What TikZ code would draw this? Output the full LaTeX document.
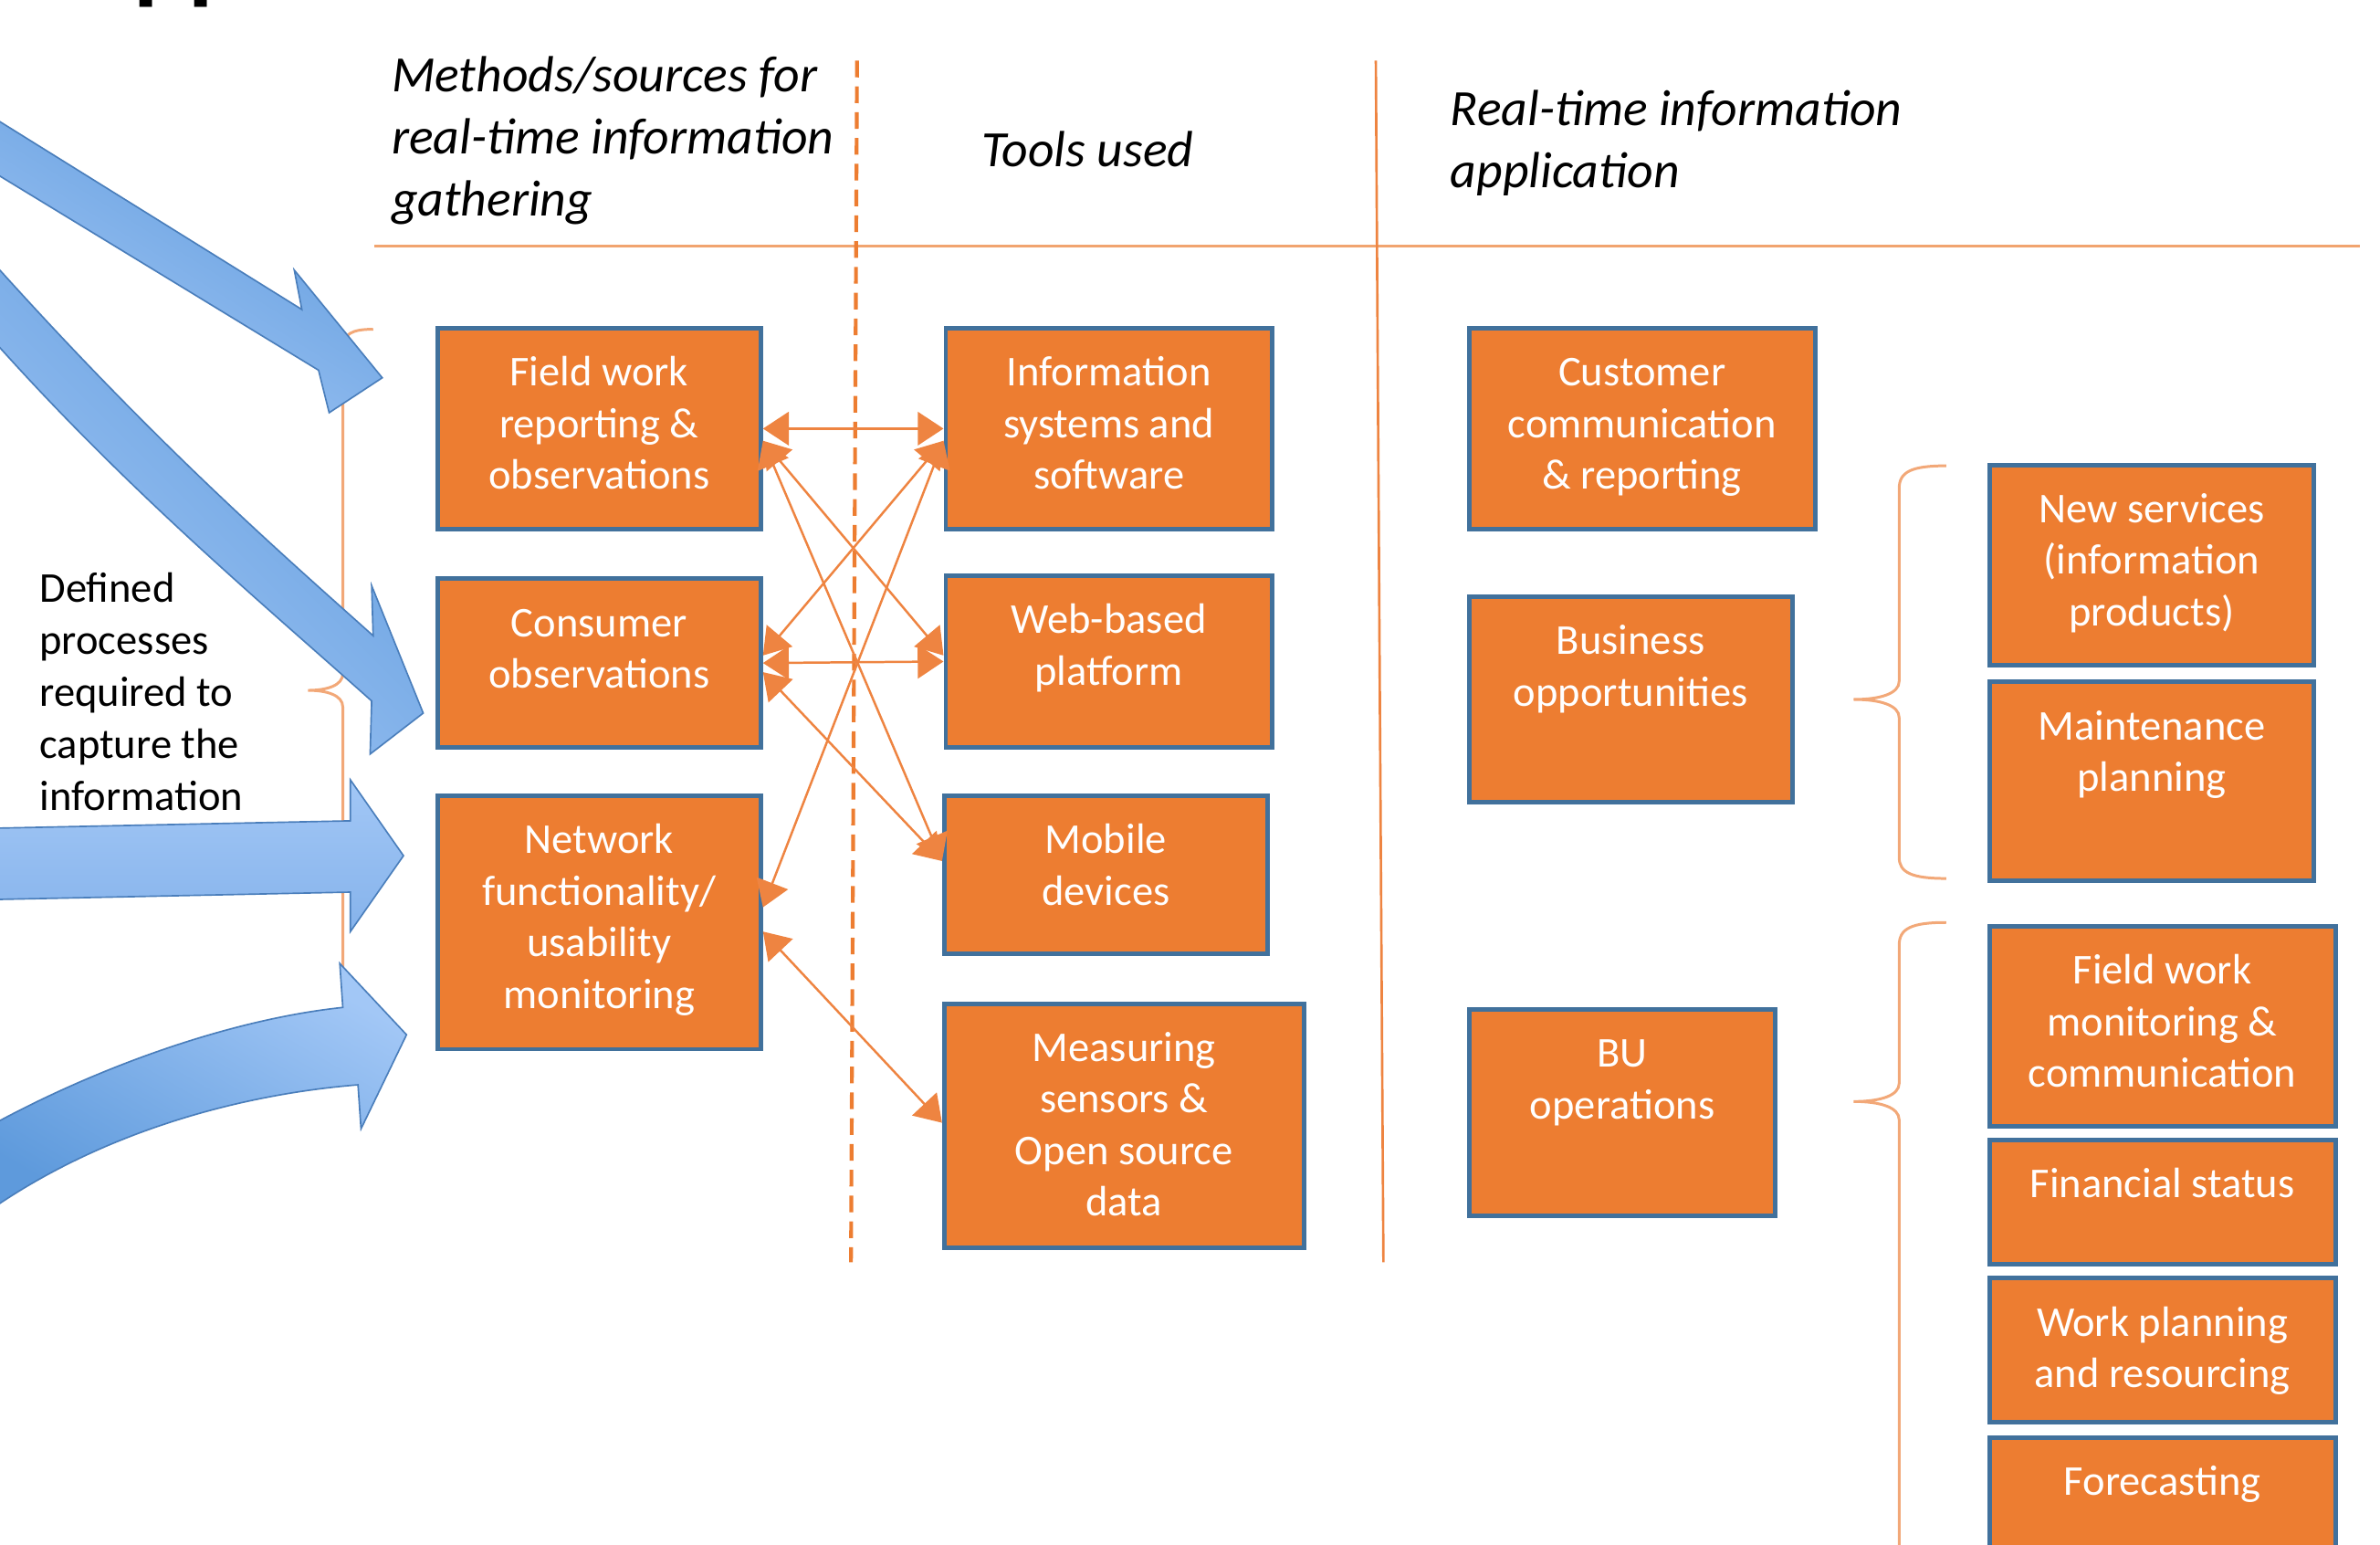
\documentclass[tikz,border=0pt]{standalone}
\usepackage{fontspec}
\setmainfont{Carlito}
\usetikzlibrary{arrows.meta}

\definecolor{boxorange}{HTML}{ED7D31}
\definecolor{boxblue}{HTML}{41719C}
\definecolor{linkorange}{HTML}{EE8441}
\definecolor{ruleorange}{HTML}{F1A46F}
\definecolor{bracelight}{HTML}{F2A878}
\definecolor{arrowdark}{HTML}{5E9ADC}
\definecolor{arrowmid}{HTML}{86B3EB}
\definecolor{arrowlight}{HTML}{A2C7F6}
\definecolor{arrowedge}{HTML}{4A7EBB}

% top-anchored text inside a box of fixed size
\newcommand{\boxtext}[3]{\parbox[c][#2][t]{#1}{\centering\rule{0pt}{38pt}#3}}

\tikzset{
    infobox/.style={draw=boxblue, fill=boxorange, line width=3pt, text=white,
        inner sep=0pt, anchor=north west, font=\fontsize{28}{34}\selectfont},
    heading/.style={font=\fontsize{33.5}{41}\selectfont\itshape, align=left,
        anchor=north west, inner sep=0pt},
    link/.style={draw=linkorange, line width=1.5pt,
        {Triangle[length=17pt,width=22pt]}-{Triangle[length=17pt,width=22pt]}},
    brace/.style={draw=bracelight, line width=1.8pt},
    bigarrow/.style={draw=arrowedge, line width=1pt},
}

\begin{document}
\begin{tikzpicture}[x=1pt, y=-1pt]
        \useasboundingbox (0,0) rectangle (1569,1018);

        % Headings
        \node[anchor=base west, inner sep=0pt, font=\fontsize{67}{80}\selectfont\bfseries] (title) at (88,-6) {pp};
        \node[heading] (methods) at (258,37) {Methods/sources for\\real-time information\\gathering};
        \node[heading, anchor=base west] (tools) at (647,110) {Tools used};
        \node[heading] (application) at (956,59) {Real-time information\\application};
        \node[anchor=north west, inner sep=0pt, align=left, font=\fontsize{28}{34.3}\selectfont] (defined) at (26,377)
            {Defined\\processes\\required to\\capture the\\information};

        % Rules
        \draw[ruleorange, line width=2pt] (247,162) -- (1556,162);
        \draw[boxorange, line width=2.5pt, dash pattern=on 11pt off 6pt] (565,40) -- (561,832);
        \draw[linkorange, line width=1.6pt] (907,40) -- (912,832);

        % Braces
        \draw[brace] (246,217) .. controls (232,217) and (226,220) .. (226,230) -- (226,444)
            .. controls (226,452) and (215,455) .. (203,455) .. controls (215,455) and (226,458) .. (226,466) -- (226,650);
        \draw[brace] (1283,307) .. controls (1260,307) and (1252,311) .. (1252,322) -- (1252,449)
            .. controls (1252,457) and (1240,461) .. (1222,461) .. controls (1240,461) and (1252,465) .. (1252,473)
            -- (1252,565) .. controls (1252,575) and (1260,579) .. (1283,579);
        \draw[brace] (1283,608) .. controls (1260,608) and (1252,612) .. (1252,623) -- (1252,714)
            .. controls (1252,722) and (1240,726) .. (1222,726) .. controls (1240,726) and (1252,730) .. (1252,738)
            -- (1252,1030);

        % Gathering
        \node[infobox] (fieldwork) at (287,215) {\boxtext{213pt}{132pt}{Field work\\reporting \&\\observations}};
        \node[infobox] (consumer) at (287,380) {\boxtext{213pt}{111pt}{Consumer\\observations}};
        \node[infobox] (network) at (287,523) {\boxtext{213pt}{167pt}{Network\\functionality/\\usability\\monitoring}};

        % Tools
        \node[infobox] (infosys) at (622,215) {\boxtext{215pt}{132pt}{Information\\systems and\\software}};
        \node[infobox] (webplat) at (622,378) {\boxtext{215pt}{113pt}{Web-based\\platform}};
        \node[infobox] (mobile) at (621,523) {\boxtext{213pt}{104pt}{Mobile\\devices}};
        \node[infobox] (measuring) at (621,660) {\boxtext{237pt}{161pt}{Measuring\\sensors \&\\Open source\\data}};

        % Application
        \node[infobox] (customer) at (967,215) {\boxtext{228pt}{132pt}{Customer\\communication\\\& reporting}};
        \node[infobox] (business) at (967,392) {\boxtext{213pt}{135pt}{Business\\opportunities}};
        \node[infobox] (buops) at (967,664) {\boxtext{202pt}{136pt}{BU\\operations}};
        \node[infobox] (newserv) at (1310,305) {\boxtext{214pt}{132pt}{New services\\(information\\products)}};
        \node[infobox] (maint) at (1310,448) {\boxtext{214pt}{131pt}{Maintenance\\planning}};
        \node[infobox] (fieldmon) at (1310,609) {\boxtext{228pt}{132pt}{Field work\\monitoring \&\\communication}};
        \node[infobox] (financial) at (1310,750) {\boxtext{228pt}{82pt}{Financial status}};
        \node[infobox] (workplan) at (1310,841) {\boxtext{228pt}{95pt}{Work planning\\and resourcing}};
        \node[infobox] (forecast) at (1310,946) {\boxtext{228pt}{90pt}{Forecasting}};

        % Arrows
        \draw[link] (fieldwork.east) -- (infosys.west);
        \draw[link] (consumer.east) -- (webplat.west);
        \draw[link] ([yshift=-8pt]fieldwork.east) -- ([yshift=4pt]webplat.west);
        \draw[link] ([yshift=-8pt]fieldwork.east) -- ([yshift=9pt]mobile.west);
        \draw[link] ([yshift=5pt]consumer.east) -- ([yshift=-8pt]infosys.west);
        \draw[link] ([yshift=-6pt]consumer.east) -- ([yshift=9pt]mobile.west);
        \draw[link] ([yshift=10pt]network.east) -- ([yshift=-8pt]infosys.west);
        \draw[link] ([yshift=-6pt]network.east) -- ([yshift=2pt]measuring.west);

        % Block arrows
        \draw[bigarrow, top color=arrowdark, bottom color=arrowlight, shading angle=-32]
            (-10,74) -- (199,204) -- (194,178) -- (252,249) -- (217,272) -- (210,244) -- (-10,110) -- cycle;
        \draw[bigarrow, top color=arrowdark, bottom color=arrowlight, shading angle=-45]
            (-10,167) .. controls (100,290) and (180,360) .. (246,419) -- (245,386) -- (279,470) -- (244,497)
            -- (245,462) .. controls (170,395) and (80,320) .. (-10,218) -- cycle;
        \draw[bigarrow, top color=arrowlight, bottom color=arrowmid]
            (-10,546) -- (231,541) -- (231,514) -- (266,564) -- (231,614) -- (231,588) -- (-10,593) -- cycle;
        \draw[bigarrow, top color=arrowlight, bottom color=arrowdark, shading angle=-30]
            (-10,744) .. controls (60,705) and (150,672) .. (226,664) -- (224,635) -- (268,682) -- (238,744)
            -- (236,715) .. controls (150,722) and (60,750) .. (-10,800) -- cycle;
\end{tikzpicture}
\end{document}
